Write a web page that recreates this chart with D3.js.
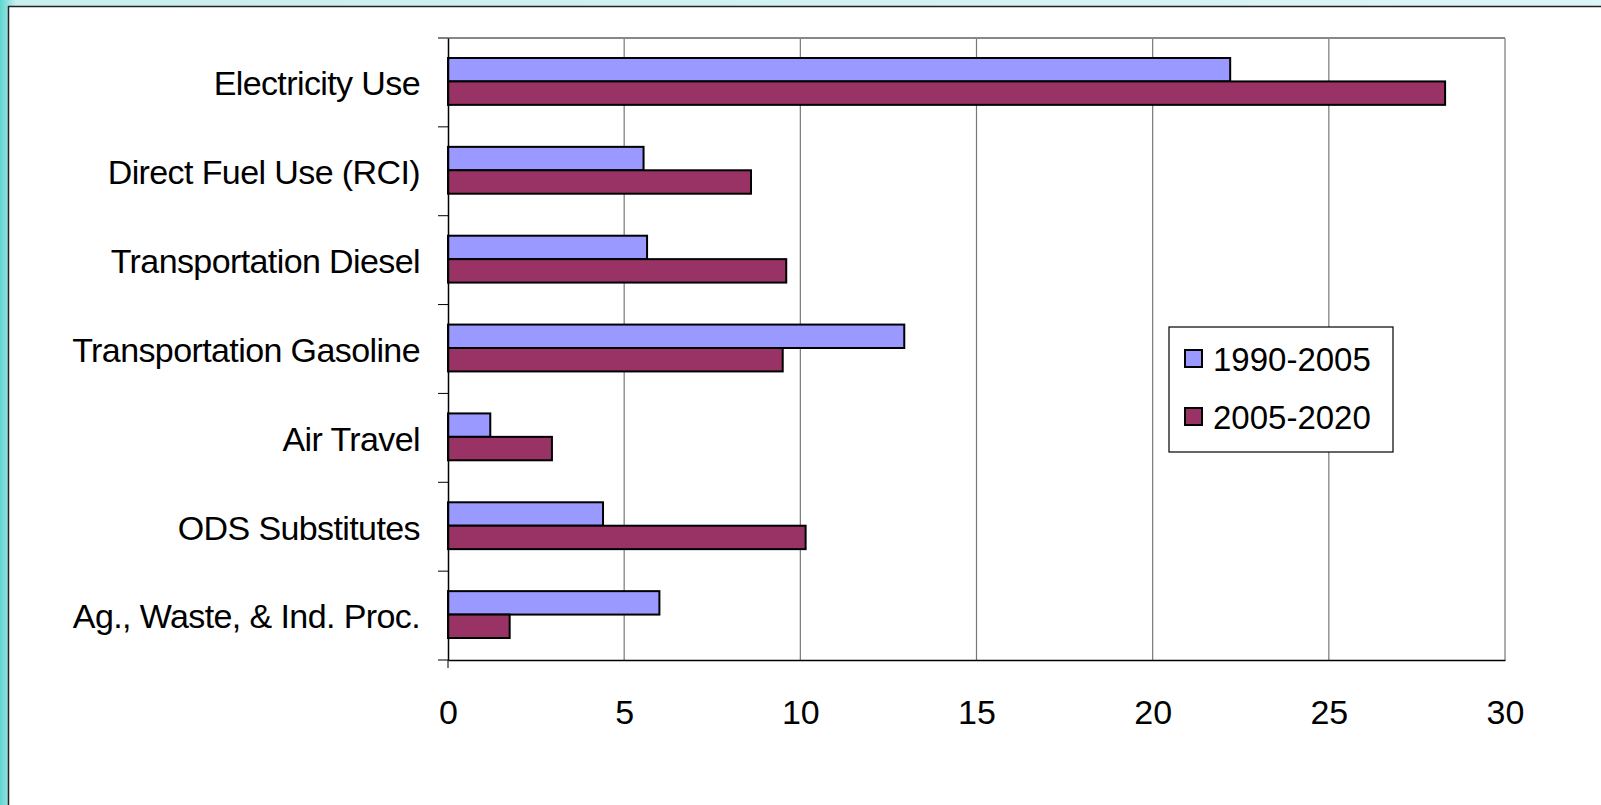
<!DOCTYPE html>
<html><head><meta charset="utf-8">
<script src="https://cdn.jsdelivr.net/npm/d3@7"></script>
<style>body{margin:0;background:#fff}svg{display:block}text{font-family:Arial,"Liberation Sans",sans-serif;fill:#000}</style>
</head><body><svg width="1601" height="805"></svg>
<script>
const categories = ["Electricity Use ", "Direct Fuel Use (RCI)", "Transportation Diesel", "Transportation Gasoline", "Air Travel", "ODS Substitutes", "Ag., Waste, & Ind. Proc."];
const series1 = [22.2, 5.55, 5.65, 12.95, 1.2, 4.4, 6.0];
const series2 = [28.3, 8.6, 9.6, 9.5, 2.95, 10.15, 1.75];
const seriesNames = ["1990-2005", "2005-2020"];
const colors = ["#9999ff", "#993366"];
const xTicks = [0, 5, 10, 15, 20, 25, 30];

const svg = d3.select("svg");
const defs = svg.append("defs");
const g1 = defs.append("linearGradient").attr("id", "bg").attr("x1", 0).attr("x2", 1);
g1.append("stop").attr("offset", 0).attr("stop-color", "#5fd6d0");
g1.append("stop").attr("offset", 0.01).attr("stop-color", "#c8eeee");
g1.append("stop").attr("offset", 1).attr("stop-color", "#def5f5");
svg.append("rect").attr("width", 1601).attr("height", 805).attr("fill", "url(#bg)");
svg.append("rect").attr("x", 8.5).attr("y", 6.5).attr("width", 1600).attr("height", 810)
  .attr("fill", "#fff").attr("stroke", "#222").attr("stroke-width", 1.5);

const x = d3.scaleLinear().domain([0, 30]).range([448, 1505]);
const y = d3.scaleBand().domain(categories).range([38, 660]);
const inner = d3.scaleBand().domain([0, 1]).range([20, y.bandwidth() - 22]);

svg.append("g").selectAll("line").data(xTicks.slice(1)).join("line")
  .attr("x1", d => x(d)).attr("x2", d => x(d)).attr("y1", 38).attr("y2", 660)
  .attr("stroke", "#777").attr("stroke-width", 1.2);
svg.append("line").attr("x1", 448).attr("x2", 1505).attr("y1", 38).attr("y2", 38).attr("stroke", "#888").attr("stroke-width", 2);

const groups = svg.append("g").selectAll("g").data(categories).join("g")
  .attr("transform", d => `translate(0,${y(d)})`);
[series1, series2].forEach((s, i) => {
  groups.append("rect").attr("x", x(0)).attr("y", inner(i))
    .attr("width", (d, j) => x(s[j]) - x(0)).attr("height", inner.bandwidth())
    .attr("fill", colors[i]).attr("stroke", "#000").attr("stroke-width", 2);
});

const yAxis = svg.append("g").attr("transform", "translate(448,0)")
  .call(d3.axisLeft(y).tickValues([]).tickSizeOuter(0));
yAxis.select(".domain").attr("stroke", "#000").attr("stroke-width", 1.5);
svg.append("g").selectAll("line").data(d3.range(8)).join("line")
  .attr("x1", 438).attr("x2", 448)
  .attr("y1", d => 38 + d * y.step()).attr("y2", d => 38 + d * y.step()).attr("stroke", "#000");
svg.append("g").selectAll("text").data(categories).join("text")
  .attr("x", 420).attr("y", d => y(d) + y.bandwidth() / 2 + 1).attr("dy", "0.35em")
  .attr("text-anchor", "end").attr("font-size", 34).attr("letter-spacing", -0.6).text(d => d);

const xAxis = svg.append("g").attr("transform", "translate(0,660)")
  .call(d3.axisBottom(x).tickValues(xTicks).tickSize(0).tickPadding(40).tickSizeOuter(0));
xAxis.select(".domain").attr("stroke", "#000").attr("stroke-width", 1.5);
xAxis.selectAll("text").attr("font-size", 34).style("font-family", "Arial, 'Liberation Sans', sans-serif");
svg.append("line").attr("x1", 448).attr("x2", 448).attr("y1", 660).attr("y2", 668).attr("stroke", "#000");

const leg = svg.append("g").attr("transform", "translate(1169,327)");
leg.append("rect").attr("width", 224).attr("height", 125).attr("fill", "#fff").attr("stroke", "#000").attr("stroke-width", 1.2);
seriesNames.forEach((n, i) => {
  leg.append("rect").attr("x", 16).attr("y", 23 + i * 58).attr("width", 17).attr("height", 17)
    .attr("fill", colors[i]).attr("stroke", "#000").attr("stroke-width", 2);
  leg.append("text").attr("x", 44).attr("y", 32 + i * 58).attr("dy", "0.35em").attr("font-size", 33).text(n);
});
</script></body></html>
